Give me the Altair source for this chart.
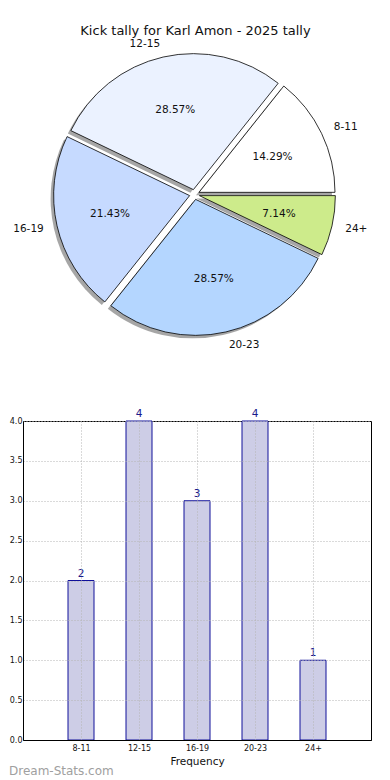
import altair as alt
import pandas as pd

# ---- data ----
categories = ["8-11", "12-15", "16-19", "20-23", "24+"]
counts = [2, 4, 3, 4, 1]
pie_colors = ["#ffffff", "#ebf2ff", "#c6daff", "#b4d6ff", "#cdeb8b"]
y_ticks = [0.0, 0.5, 1.0, 1.5, 2.0, 2.5, 3.0, 3.5, 4.0]
title_text = "Kick tally for Karl Amon - 2025 tally"
x_title = "Frequency"
watermark = "Dream-Stats.com"

df = pd.DataFrame({
    "cat": categories,
    "count": counts,
    "idx": list(range(len(categories))),
    "color": pie_colors,
})

FONT = "DejaVu Sans"
W = 348
PIE_H = 400
CX, CY = 171.5, 185.5
R = 136
E = 5

base = (
    alt.Chart(df)
    .transform_joinaggregate(total="sum(count)")
    .transform_window(cum="sum(count)", sort=[alt.SortField("idx", order="descending")], frame=[None, 0])
    .transform_calculate(
        t0="PI/2 + 2*PI*(datum.cum - datum.count)/datum.total",
        t1="PI/2 + 2*PI*datum.cum/datum.total",
    )
    .transform_calculate(mid="(datum.t0 + datum.t1)/2")
    .transform_calculate(
        ex=f"{CX} + {E}*sin(datum.mid)",
        ey=f"{CY} - {E}*cos(datum.mid)",
    )
    .transform_calculate(
        px=f"datum.ex + {0.6*R}*sin(datum.mid)",
        py=f"datum.ey - {0.6*R}*cos(datum.mid)",
        lx=f"datum.ex + {1.1*R}*sin(datum.mid)",
        ly=f"datum.ey - {1.1*R}*cos(datum.mid)",
        pct="format(100*datum.count/datum.total, '.2f') + '%'",
        side="sin(datum.mid) > 0 ? 'r' : 'l'",
    )
)

arc_enc = dict(
    x=alt.X("ex:Q", scale=None, axis=None),
    y=alt.Y("ey:Q", scale=None, axis=None),
    theta=alt.Theta("t0:Q", scale=None),
    theta2="t1:Q",
)

shadow = base.mark_arc(outerRadius=R, fill="#4d4d4d", opacity=0.5, xOffset=-3, yOffset=3).encode(**arc_enc)
slices = base.mark_arc(outerRadius=R, stroke="black", strokeWidth=0.8).encode(
    fill=alt.Fill("color:N", scale=None), **arc_enc
)
pct_text = base.mark_text(font=FONT, fontSize=10.5, color="#111111", baseline="middle", align="center").encode(
    x=alt.X("px:Q", scale=None, axis=None), y=alt.Y("py:Q", scale=None, axis=None), text="pct:N"
)
lab_right = base.transform_filter("datum.side == 'r'").mark_text(
    font=FONT, fontSize=10.5, color="#111111", baseline="middle", align="left"
).encode(x=alt.X("lx:Q", scale=None, axis=None), y=alt.Y("ly:Q", scale=None, axis=None), text="cat:N")
lab_left = base.transform_filter("datum.side == 'l'").mark_text(
    font=FONT, fontSize=10.5, color="#111111", baseline="middle", align="right"
).encode(x=alt.X("lx:Q", scale=None, axis=None), y=alt.Y("ly:Q", scale=None, axis=None), text="cat:N")

title = alt.Chart(pd.DataFrame({"t": [title_text]})).mark_text(
    font=FONT, fontSize=13, color="#111111", align="center", baseline="middle"
).encode(x=alt.value(172.5), y=alt.value(22), text="t:N")

pie = alt.layer(shadow, slices, pct_text, lab_right, lab_left, title).properties(
    width=W, height=PIE_H, view=alt.ViewBackground(stroke="transparent")
)

# ---- bar chart ----
grid_kw = dict(grid=True, gridDash=[1, 2], gridColor="#b4b4b4", gridWidth=1, zindex=1,
               domainColor="black", ticks=False, labelColor="#111111", labelFont=FONT)

bar_base = alt.Chart(df).encode(
    x=alt.X("cat:N", sort=categories, scale=alt.Scale(type="point", padding=1),
            axis=alt.Axis(title=x_title, labelFontSize=8, labelAngle=0, titleFontSize=10.5,
                          titleFont=FONT, titleFontWeight="normal", titleColor="#111111",
                          titlePadding=4, labelPadding=4, **grid_kw)),
    y=alt.Y("count:Q", scale=alt.Scale(domain=[0, 4], nice=False),
            axis=alt.Axis(values=y_ticks, format=".1f", title=None, labelFontSize=8,
                          labelPadding=1, **grid_kw)),
)
bars = bar_base.mark_bar(width=26, fill="#cdcde6", stroke="#10109a", strokeWidth=1)
vals = bar_base.mark_text(font=FONT, fontSize=10.5, color="#1a1a8c", baseline="bottom", dy=-2).encode(
    text="count:Q"
)
wm = alt.Chart(pd.DataFrame({"t": [watermark]})).mark_text(
    font=FONT, fontSize=12, color="#a0a0a0", align="left", baseline="middle"
).encode(x=alt.value(-14), y=alt.value(350), text="t:N")

bar = alt.layer(bars, vals, wm).properties(
    width=W, height=319, view=alt.ViewBackground(stroke="black", strokeWidth=1)
)

chart = (
    alt.vconcat(pie, bar, spacing=12, bounds="flush")
    .properties(padding=0)
    .configure(font=FONT)
)

chart.save("out.html", embed_options={"renderer": "svg", "actions": False})
